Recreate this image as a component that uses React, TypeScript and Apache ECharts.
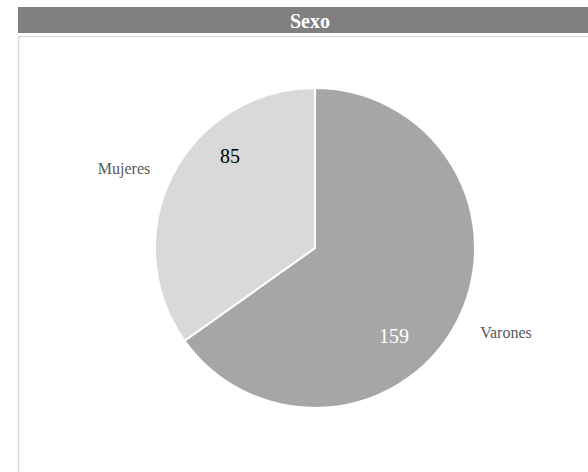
import React, { useEffect, useRef } from "react";
import * as echarts from "echarts";

const titleText = "Sexo";
const categories = ["Varones", "Mujeres"];
const values = [159, 85];
const sliceColors = ["#a6a6a6", "#d9d9d9"];
const valueLabelColors = ["#ffffff", "#000000"];

// label anchor positions (layout only)
const valueLabelPos = [
  [394, 336],
  [230, 156],
];
const nameLabelPos = [
  [506, 332],
  [124, 168],
];

const SERIF = "'Liberation Serif', 'Times New Roman', serif";

export default function App() {
  const ref = useRef<HTMLDivElement>(null);

  useEffect(() => {
    document.body.style.margin = "0";
    const chart = echarts.init(ref.current!, null, { renderer: "svg" });
    const pieData = categories.map((name, i) => ({
      name,
      value: values[i],
      itemStyle: { color: sliceColors[i] },
      label: { color: valueLabelColors[i] },
    }));
    const nameData = categories.map((name, i) => ({
      name,
      value: values[i],
    }));

    chart.setOption({
      animation: false,
      backgroundColor: "#ffffff",
      graphic: [
        {
          type: "rect",
          shape: { x: 18.5, y: 36.5, width: 700, height: 600 },
          style: { fill: "#ffffff", stroke: "#d9d9d9", lineWidth: 1.5 },
          z: 0,
        },
        {
          type: "rect",
          shape: { x: 18, y: 7, width: 700, height: 26 },
          style: { fill: "#808080" },
          z: 1,
        },
        {
          type: "text",
          x: 310,
          y: 21,
          style: {
            text: titleText,
            fill: "#ffffff",
            font: `bold 20px ${SERIF}`,
            textAlign: "center",
            textVerticalAlign: "middle",
          },
          z: 2,
        },
      ],
      series: [
        {
          type: "pie",
          center: [315, 248],
          radius: 160,
          startAngle: 90,
          clockwise: true,
          silent: true,
          itemStyle: { borderColor: "#ffffff", borderWidth: 2 },
          label: {
            show: true,
            position: "inside",
            formatter: "{c}",
            fontFamily: SERIF,
            fontSize: 20,
          },
          labelLine: { show: false },
          labelLayout: (p: any) => ({
            x: valueLabelPos[p.dataIndex][0],
            y: valueLabelPos[p.dataIndex][1],
            align: "center",
            verticalAlign: "middle",
          }),
          data: pieData,
        },
        {
          type: "pie",
          center: [315, 248],
          radius: 160,
          startAngle: 90,
          clockwise: true,
          silent: true,
          itemStyle: { color: "rgba(0,0,0,0)", borderWidth: 0 },
          label: {
            show: true,
            position: "inside",
            formatter: "{b}",
            fontFamily: SERIF,
            fontSize: 16,
            color: "#595959",
          },
          labelLine: { show: false },
          labelLayout: (p: any) => ({
            x: nameLabelPos[p.dataIndex][0],
            y: nameLabelPos[p.dataIndex][1],
            align: "center",
            verticalAlign: "middle",
          }),
          data: nameData,
        },
      ],
    });
    return () => chart.dispose();
  }, []);

  return <div ref={ref} style={{ width: 588, height: 472 }} />;
}
